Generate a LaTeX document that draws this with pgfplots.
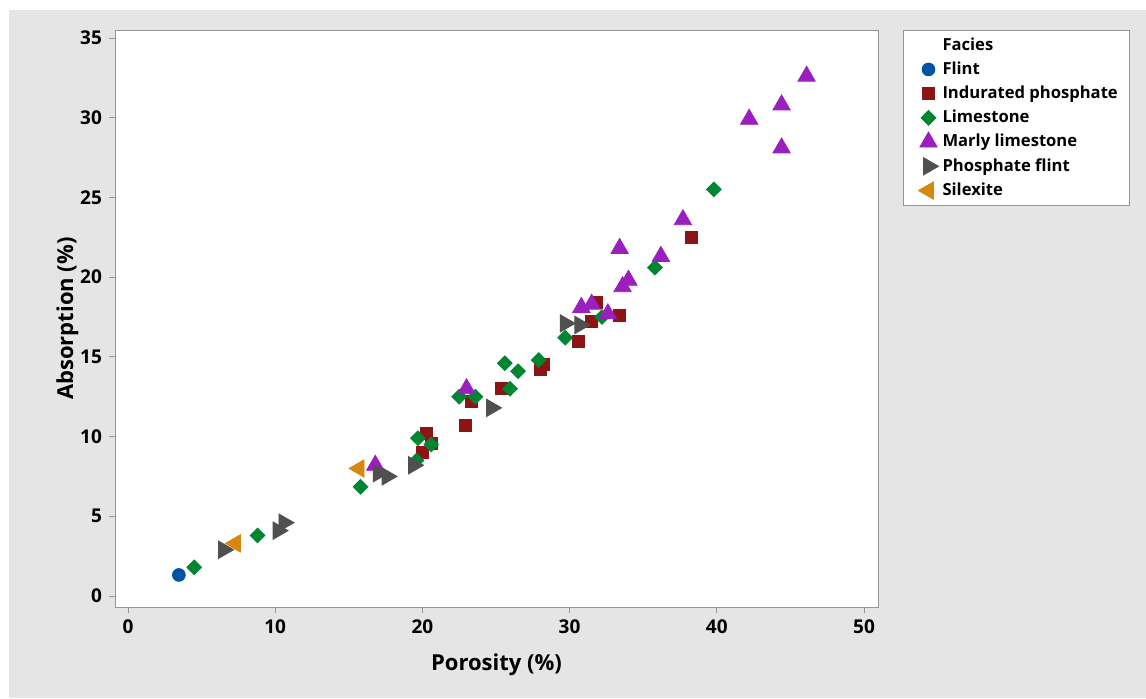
\documentclass[border=0pt]{standalone}
\usepackage{pgfplots}
\pgfplotsset{compat=1.18}
\usepackage{fontspec}
\setmainfont{Open Sans}
\definecolor{cflint}{RGB}{0,84,166}
\definecolor{cind}{RGB}{140,20,20}
\definecolor{clime}{RGB}{0,134,50}
\definecolor{cmarly}{RGB}{155,30,190}
\definecolor{cpf}{RGB}{80,80,80}
\definecolor{csil}{RGB}{214,136,12}
\definecolor{bg}{RGB}{229,229,229}
\definecolor{frame}{RGB}{150,150,150}
\begin{document}
\begin{tikzpicture}
\fill[white] (0,0) rectangle (573pt,349pt);
\fill[bg] (4.5pt,0) rectangle (573pt,344pt);
\begin{axis}[
  at={(57.5pt,45.5pt)}, anchor=south west,
  width=381.5pt, height=288.5pt, scale only axis,
  xmin=-0.88, xmax=50.95, ymin=-0.69, ymax=35.5,
  xtick={0,10,...,50}, ytick={0,5,...,35},
  axis background/.style={fill=white},
  axis line style={frame},
  tick style={frame, thin},
  tick align=outside, tick pos=left,
  major tick length=3pt,
  /pgf/number format/assume math mode=true,
  tick label style={font=\fontsize{9.5}{11}\selectfont\bfseries},
  label style={font=\fontsize{11}{13}\selectfont\bfseries},
  xlabel={Porosity (\%)}, ylabel={Absorption (\%)},
  xlabel style={yshift=-3pt},
  ylabel style={yshift=-6pt},
  legend style={at={(axis description cs:1.0328,1.0)}, anchor=north west,
    draw=frame, fill=white, font=\fontsize{8.3}{9.6}\selectfont\bfseries,
    row sep=0.3pt, inner xsep=4pt, inner ysep=1.5pt},
  legend cell align=left,
  only marks,
]
\addlegendimage{empty legend}
\addlegendentry{Facies}
\addplot[mark=*, mark size=3.2pt, draw=cflint, fill=cflint] coordinates {(3.46,1.32)};
\addlegendentry{Flint}
\addplot[mark=square*, mark size=3.0pt, draw=cind, fill=cind] coordinates {
(20.3,10.2) (20.6,9.6) (20.0,9.0) (22.9,10.7) (23.3,12.2) (25.4,13.0)
(28.0,14.2) (28.2,14.5) (30.6,16.0) (31.5,17.2) (31.8,18.4) (33.4,17.6) (38.3,22.5)};
\addlegendentry{Indurated phosphate}
\addplot[mark=square*, mark size=2.6pt, mark options={rotate=45}, draw=clime, fill=clime] coordinates {
(4.5,1.8) (8.8,3.8) (15.8,6.85) (19.6,8.5) (19.7,9.9) (20.6,9.5) (22.5,12.5) (23.6,12.5)
(25.6,14.6) (26.5,14.1) (25.95,13.0) (27.9,14.8) (29.7,16.2) (32.2,17.5) (35.8,20.6) (39.8,25.5)};
\addlegendentry{Limestone}
\addplot[mark=triangle*, mark size=5pt, draw=cmarly, fill=cmarly] coordinates {
(16.8,8.2) (23.0,13.0) (30.8,18.1) (31.5,18.3) (32.6,17.7) (33.4,21.8) (33.6,19.4) (34.0,19.8)
(36.2,21.3) (37.7,23.6) (42.2,29.9) (44.4,30.8) (44.4,28.1) (46.1,32.6)};
\addlegendentry{Marly limestone}
\addplot[mark=triangle*, mark size=5pt, mark options={rotate=-90}, draw=cpf, fill=cpf] coordinates {
(6.5,2.9) (10.2,4.1) (10.6,4.6) (17.0,7.7) (17.6,7.5) (19.4,8.2) (24.7,11.8) (29.7,17.1) (30.7,17.0)};
\addlegendentry{Phosphate flint}
\addplot[mark=triangle*, mark size=5pt, mark options={rotate=90}, draw=csil, fill=csil] coordinates {
(7.3,3.3) (15.7,8.0)};
\addlegendentry{Silexite}
\end{axis}
\end{tikzpicture}
\end{document}
